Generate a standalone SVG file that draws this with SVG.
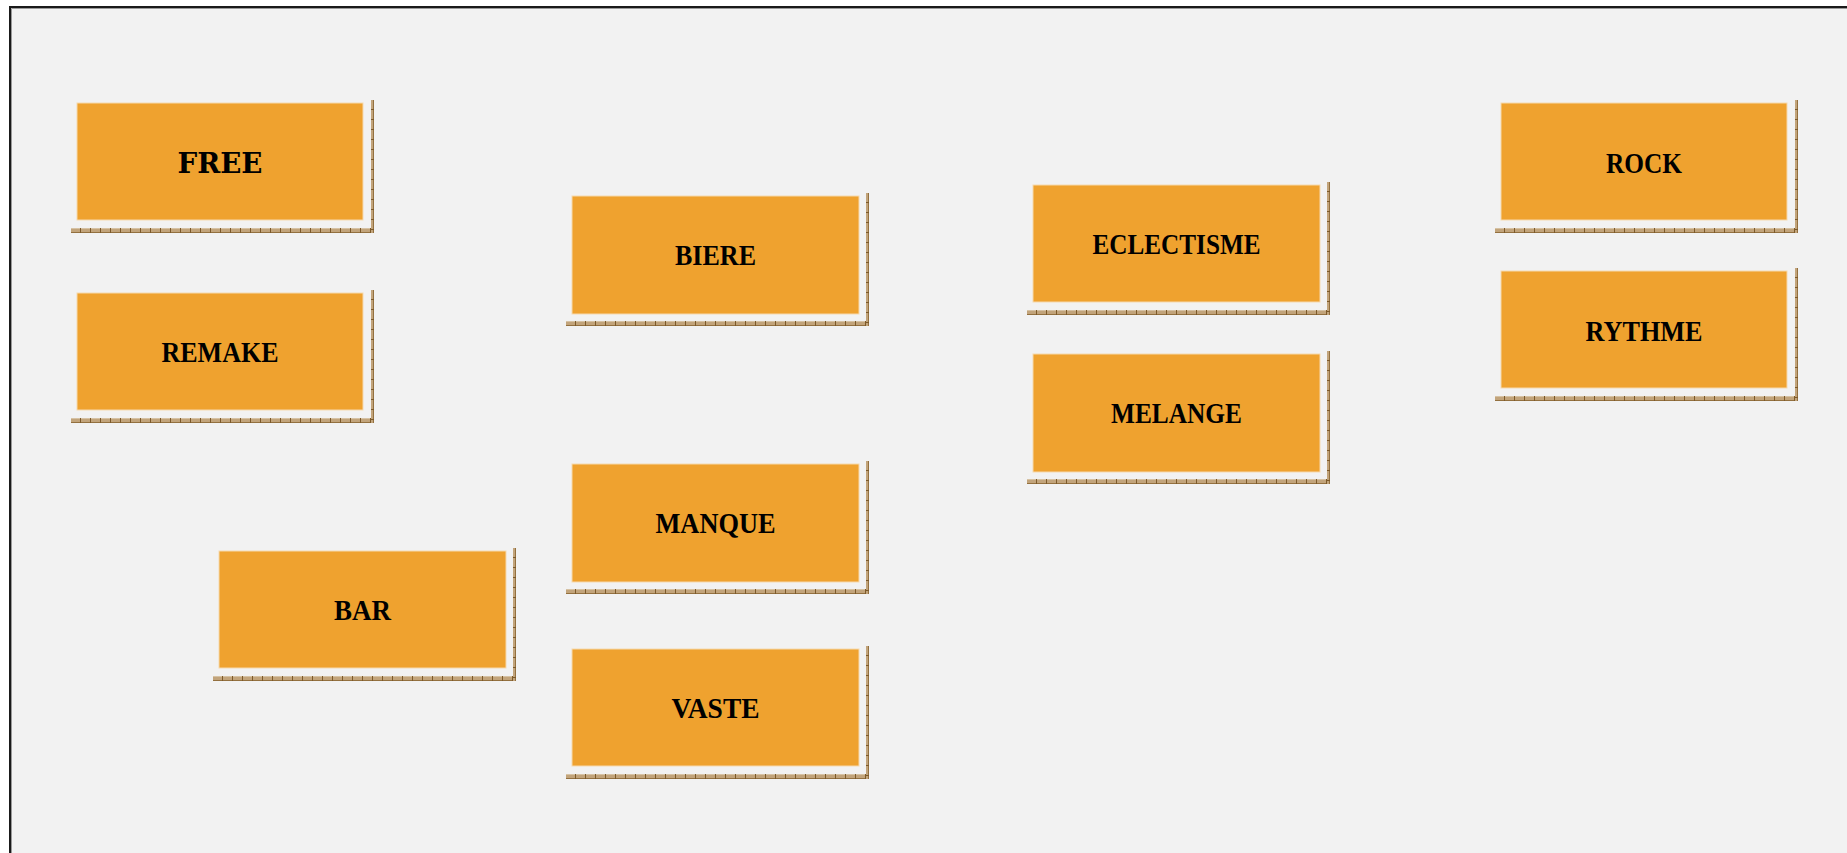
<svg xmlns="http://www.w3.org/2000/svg" xmlns:xlink="http://www.w3.org/1999/xlink" width="1847" height="853" viewBox="0 0 1847 853">
  <style>
    .box { fill: #efa22f; stroke: #f6d9ae; stroke-width: 1; }
    .lbl { font-family: "Liberation Serif", "Times New Roman", serif; font-weight: bold; font-size: 30px; fill: #000; text-anchor: middle; }
    .lbl-slab { font-family: "DejaVu Serif", "Liberation Serif", serif; font-weight: bold; font-size: 28px; fill: #000; text-anchor: middle; }
  </style>
  <defs>
    <pattern id="hticks" patternUnits="userSpaceOnUse" x="0" y="0" width="10" height="5">
      <rect width="10" height="5" fill="#c2a47b"/>
      <rect x="0" y="0" width="10" height="1" fill="#d6c2a4"/>
      <rect x="0" y="4" width="10" height="1" fill="#93703f"/>
      <rect x="3" y="0" width="1" height="5" fill="#7d5a2a"/>
    </pattern>
    <pattern id="vticks" patternUnits="userSpaceOnUse" x="0" y="0" width="3" height="10">
      <rect width="3" height="10" fill="#c2a47b"/>
      <rect x="2" y="0" width="1" height="10" fill="#93703f"/>
      <rect x="0" y="6" width="3" height="1" fill="#7d5a2a"/>
    </pattern>
    <g id="shadow">
      <rect x="-6" y="125" width="303" height="5" fill="url(#hticks)"/>
      <rect x="294" y="-3" width="3" height="133" fill="url(#vticks)"/>
    </g>
  </defs>

  <rect x="0" y="0" width="1847" height="853" fill="#ffffff"/>
  <rect x="10" y="7" width="1860" height="870" fill="#f2f2f2" stroke="#1a1a1a" stroke-width="2"/>
  <path d="M11.5 880 V8.5 H1860" fill="none" stroke="#9a9a9a" stroke-width="1"/>

  <g id="node-free" transform="translate(77,103)">
    <use xlink:href="#shadow"/>
    <rect class="box" width="286" height="117"/>
    <text class="lbl-slab" x="143" y="69.5" textLength="85" lengthAdjust="spacingAndGlyphs">FREE</text>
  </g>
  <g id="node-remake" transform="translate(77,293)">
    <use xlink:href="#shadow"/>
    <rect class="box" width="286" height="117"/>
    <text class="lbl" x="143" y="69" textLength="117" lengthAdjust="spacingAndGlyphs">REMAKE</text>
  </g>
  <g id="node-bar" transform="translate(219,551)">
    <use xlink:href="#shadow"/>
    <rect class="box" width="287" height="117"/>
    <text class="lbl" x="143.5" y="69" textLength="57" lengthAdjust="spacingAndGlyphs">BAR</text>
  </g>
  <g id="node-biere" transform="translate(572,196)">
    <use xlink:href="#shadow"/>
    <rect class="box" width="287" height="118"/>
    <text class="lbl" x="143.5" y="69" textLength="81" lengthAdjust="spacingAndGlyphs">BIERE</text>
  </g>
  <g id="node-manque" transform="translate(572,464)">
    <use xlink:href="#shadow"/>
    <rect class="box" width="287" height="118"/>
    <text class="lbl" x="143.5" y="69" textLength="120" lengthAdjust="spacingAndGlyphs">MANQUE</text>
  </g>
  <g id="node-vaste" transform="translate(572,649)">
    <use xlink:href="#shadow"/>
    <rect class="box" width="287" height="117"/>
    <text class="lbl" x="143.5" y="69" textLength="88" lengthAdjust="spacingAndGlyphs">VASTE</text>
  </g>
  <g id="node-eclectisme" transform="translate(1033,185)">
    <use xlink:href="#shadow"/>
    <rect class="box" width="287" height="117"/>
    <text class="lbl" x="143.5" y="69" textLength="168" lengthAdjust="spacingAndGlyphs">ECLECTISME</text>
  </g>
  <g id="node-melange" transform="translate(1033,354)">
    <use xlink:href="#shadow"/>
    <rect class="box" width="287" height="118"/>
    <text class="lbl" x="143.5" y="69" textLength="131" lengthAdjust="spacingAndGlyphs">MELANGE</text>
  </g>
  <g id="node-rock" transform="translate(1501,103)">
    <use xlink:href="#shadow"/>
    <rect class="box" width="286" height="117"/>
    <text class="lbl" x="143" y="69.5" textLength="76" lengthAdjust="spacingAndGlyphs">ROCK</text>
  </g>
  <g id="node-rythme" transform="translate(1501,271)">
    <use xlink:href="#shadow"/>
    <rect class="box" width="286" height="117"/>
    <text class="lbl" x="143" y="69.5" textLength="117" lengthAdjust="spacingAndGlyphs">RYTHME</text>
  </g>

  <g id="connectors"></g>
</svg>
